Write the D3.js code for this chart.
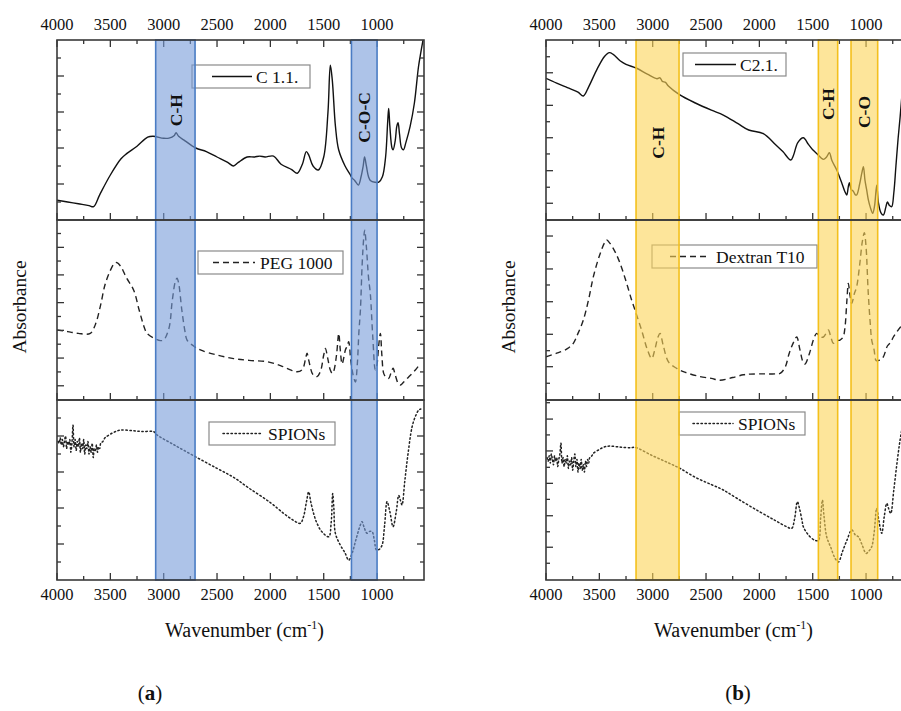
<!DOCTYPE html>
<html><head><meta charset="utf-8">
<script src="https://cdn.jsdelivr.net/npm/d3@7"></script>
<style>
body{margin:0;background:#fff;}
svg{display:block;}
text{font-family:"Liberation Serif","Times New Roman",serif;}
</style>
</head><body>
<svg id="chart" width="901" height="711" font-family="Liberation Serif, Times New Roman, serif"></svg>
<script>
// ---------- DATA ----------
const xMajorTicks = [4000, 3500, 3000, 2500, 2000, 1500, 1000];
const xMinorTicks = [3750, 3250, 2750, 2250, 1750, 1250, 750];

// panel (a) y tick values per sub-plot (relative absorbance 0-100)
const yMajorA1 = [20, 40, 60, 80];
const yMinorA1 = [10, 30, 50, 70, 90];
const yMajorA2 = [7.9, 23.3, 38.7, 54.1, 69.5, 84.8];
const yMinorA2 = [15.6, 31.0, 46.4, 61.8, 77.2, 92.5];
const yMajorA3 = [20, 40, 60, 80];
const yMinorA3 = [10, 30, 50, 70, 90];
// panel (b)
const yMajorB1 = [9.3, 27.4, 45.7, 63.7, 81.8];
const yMinorB1 = [18.2, 36.7, 54.6, 72.6, 90.7];
const yMajorB2 = [18.5, 36.5, 54.6, 72.8, 91.1];
const yMinorB2 = [9.3, 27.4, 45.7, 63.9, 82.1];
const yMajorB3 = [18.2, 35.7, 53.7, 71.7, 89.4];
const yMinorB3 = [9.3, 26.8, 44.8, 62.6, 80.6, 98.5];

const seriesNamesA = ["C 1.1.", "PEG 1000", "SPIONs"];
const seriesNamesB = ["C2.1.", "Dextran T10", "SPIONs"];

// [wavenumber, relative absorbance]
const c11 = [[4000,11],[3900,10],[3800,9],[3700,8],[3657,7.4],[3600,14],[3500,25],[3400,34],[3344,37],[3250,41],[3150,46],[3100,46.5],[3000,45.4],[2950,45.5],[2900,47],[2884,48.5],[2860,46.5],[2800,44],[2700,40],[2600,38],[2500,35],[2400,32],[2346,30],[2300,32],[2218,35],[2150,35],[2100,35.5],[2050,35],[1970,35.5],[1900,31],[1800,28],[1748,26],[1700,31],[1663,38],[1640,36],[1600,30],[1550,27.8],[1500,35],[1460,60],[1438,86],[1420,78],[1390,52],[1360,39],[1300,30],[1250,25],[1234,23.3],[1210,22],[1175,19.4],[1150,24],[1130,30],[1117,35],[1100,30],[1080,24],[1063,22],[1020,21],[984,21],[950,24],[920,35],[900,55],[891,62],[880,52],[860,40],[850,39],[830,44],[815,52],[803,54],[790,48],[770,40],[753,39],[730,43],[690,52],[650,65],[612,85],[590,93],[569,100],[560,103]];

const peg1000 = [[4000,38.9],[3900,38],[3800,37],[3688,37],[3640,42],[3594,52],[3550,64],[3500,72],[3460,76],[3438,76.3],[3400,74],[3350,68],[3281,61],[3230,50],[3180,40],[3156,37],[3080,34],[3030,33],[3000,33.3],[2950,40],[2920,55],[2890,66],[2875,67.6],[2860,65],[2830,50],[2800,38],[2781,33.3],[2720,30],[2656,27.8],[2500,25],[2344,23],[2200,22],[2031,21.3],[1900,19],[1800,16.5],[1750,15.7],[1700,17],[1670,23],[1656,26],[1640,22],[1600,14],[1563,13],[1530,16],[1500,25],[1484,28.7],[1465,24],[1440,17],[1420,14.8],[1406,16],[1380,25],[1359,37],[1345,28],[1328,20],[1310,24],[1297,27.8],[1280,30],[1266,32.4],[1255,28],[1250,24],[1225,14],[1203,10],[1185,20],[1170,38],[1156,50],[1140,75],[1125,90],[1116,94.4],[1100,85],[1080,68],[1063,59],[1040,35],[1016,16.7],[1000,20],[985,30],[969,37],[955,25],[938,14.8],[920,13],[891,12],[870,15],[850,17.6],[830,14],[800,9],[781,8.3],[750,10],[700,13],[641,16.7],[610,19]];

const spionsA = [[3990,77],[3980,76],[3970,79],[3960,75],[3950,78],[3940,74],[3930,77],[3920,80],[3910,73],[3900,77],[3890,75],[3880,78],[3870,71],[3860,76],[3850,86],[3840,74],[3830,78],[3820,72],[3810,77],[3800,74],[3790,79],[3780,71],[3770,76],[3760,73],[3750,78],[3740,70],[3730,75],[3720,73],[3710,77],[3700,70],[3690,74],[3680,71],[3670,76],[3660,68],[3650,73],[3640,72],[3630,75],[3620,71],[3610,74],[3600,73],[3590,76],[3570,77],[3550,79],[3500,81],[3450,82.5],[3406,83.3],[3300,83],[3200,82.5],[3094,82.4],[3063,80.6],[2900,75],[2703,68.5],[2500,62],[2344,57],[2200,51],[2000,43],[1875,37],[1780,33],[1719,31.5],[1690,35],[1660,44],[1641,49],[1620,43],[1590,36],[1563,31.5],[1520,27],[1453,24],[1430,32],[1416,48],[1405,40],[1391,26],[1350,20],[1300,15],[1266,11],[1234,14.8],[1200,22],[1160,30],[1141,32.4],[1120,29],[1094,26],[1070,27],[1047,26.9],[1025,22],[1006,16.7],[980,17],[953,19.4],[930,30],[906,43.5],[880,38],[850,29.6],[820,38],[797,47],[780,44],[766,41.7],[740,55],[710,70],[672,85],[640,91],[610,94.4],[590,95]];

const c21 = [[4000,78.7],[3900,76],[3800,73.5],[3700,71],[3650,68.9],[3600,74],[3520,84],[3450,91],[3406,93],[3370,92],[3306,88.5],[3250,86.5],[3150,84.3],[3050,81],[2960,78.5],[2931,79],[2910,77],[2880,76.5],[2853,74.4],[2753,69.8],[2600,65],[2450,61],[2338,58.3],[2200,53.5],[2100,50],[1963,48],[1850,42],[1780,38],[1706,33.3],[1680,36],[1640,43],[1588,45.7],[1540,42],[1500,39],[1463,37],[1400,33.7],[1370,35],[1344,37.4],[1320,33],[1275,27.8],[1230,21],[1200,16],[1181,13.9],[1165,19],[1156,20.7],[1140,17],[1120,16],[1100,14],[1088,13.9],[1060,20],[1040,26],[1025,29.6],[1010,22],[995,17],[978,11],[960,7],[938,3.7],[920,8],[900,19.4],[885,10],[860,4],[838,2.8],[815,7],[800,10],[780,8],[760,7.4],[740,15],[720,30],[700,45],[681,57],[660,72],[630,90],[600,100]];

const dextranT10 = [[4000,24],[3900,26],[3800,28.5],[3744,31.5],[3700,37],[3650,44.4],[3600,56],[3556,68.5],[3500,80],[3450,87.5],[3431,88.9],[3400,87],[3350,82],[3306,76],[3250,66],[3200,56],[3166,50],[3100,38],[3050,28],[3009,23],[2980,28],[2950,35],[2931,37],[2900,30],[2850,21],[2775,17.6],[2700,15.5],[2556,13],[2450,12],[2369,11],[2250,12.5],[2150,14],[2088,14.4],[1950,14.5],[1850,14.5],[1806,14.8],[1760,18],[1720,26],[1680,32],[1650,35],[1620,28],[1590,21],[1572,20],[1530,26],[1490,34],[1463,37],[1430,35],[1400,35],[1375,37],[1353,38.9],[1330,35],[1306,31.5],[1270,33],[1244,33.3],[1215,35],[1197,40.7],[1180,55],[1166,64.8],[1150,58],[1134,53.7],[1110,59],[1088,63],[1060,75],[1035,88],[1016,93],[1000,85],[980,60],[960,42],[947,33.3],[925,28],[906,22],[880,22],[860,23],[838,24],[800,30],[770,32],[744,35],[710,38],[675,40.7],[640,43],[600,45]];

const spionsB = [[3990,68],[3980,66],[3970,69],[3960,65],[3950,70],[3940,67],[3930,64],[3920,69],[3910,66],[3900,68],[3890,63],[3880,67],[3870,70],[3860,76],[3850,65],[3840,68],[3830,63],[3820,67],[3810,65],[3800,69],[3790,62],[3780,66],[3770,64],[3760,68],[3750,61],[3740,66],[3730,70],[3720,63],[3710,67],[3700,60],[3690,65],[3680,62],[3670,67],[3660,61],[3650,64],[3640,60],[3630,66],[3620,63],[3610,67],[3600,65],[3590,68],[3570,69],[3556,70.4],[3500,72.5],[3450,74],[3400,74.4],[3300,73.8],[3200,73.5],[3166,73.7],[3000,69],[2850,65],[2744,62],[2600,57],[2450,53],[2338,50],[2200,45],[2000,38],[1850,33],[1744,29.6],[1697,28.7],[1670,34],[1644,43.5],[1625,40],[1600,33],[1588,29.6],[1540,25],[1478,22],[1447,22],[1425,35],[1409,44.4],[1395,36],[1369,24],[1330,18],[1290,12],[1259,10],[1220,16],[1180,22],[1134,27.8],[1100,25],[1072,24],[1040,20],[1000,14.8],[975,16],[947,18.5],[925,26],[900,39.8],[880,33],[853,26],[830,35],[806,42.6],[790,40],[769,37],[740,50],[710,65],[681,77.8],[650,88],[620,95]];

// highlighted bands [from, to] in cm-1
const bandsA = [[3075, 2706], [1240, 1000]];
const bandsB = [[3156, 2753], [1447, 1266], [1141, 891]];
const bandLabelsA = [["C-H", 2890, 61], ["C-O-C", 1120, 57]];
const bandLabelsB = [["C-H", 2955, 43], ["C-H", 1356, 64.4], ["C-O", 1016, 60]];

// ---------- LAYOUT ----------
const FONT = "Liberation Serif, Times New Roman, serif";
const svg = d3.select("#chart");
const subH = 180, top0 = 40;
const styles = [
  {dash: null, color: "#111"},
  {dash: "6,4", color: "#222"},
  {dash: "1.4,2.6", color: "#222"}
];

const panels = [
  {left: 57, series: [c11, peg1000, spionsA], names: seriesNamesA,
   yMajor: [yMajorA1, yMajorA2, yMajorA3], yMinor: [yMinorA1, yMinorA2, yMinorA3],
   bands: bandsA, bandLabels: bandLabelsA,
   bandFill: "rgb(118,155,217)", bandStroke: "#4a7cc4",
   legends: [{x:135,y:25,w:118,l0:20,l1:60,t:64},{x:141,y:31,w:145,l0:15,l1:57,t:62},{x:152,y:22,w:126,l0:14,l1:53,t:59}],
   tag: "a", tagX: 150},
  {left: 546, series: [c21, dextranT10, spionsB], names: seriesNamesB,
   yMajor: [yMajorB1, yMajorB2, yMajorB3], yMinor: [yMinorB1, yMinorB2, yMinorB3],
   bands: bandsB, bandLabels: bandLabelsB,
   bandFill: "rgb(252,212,87)", bandStroke: "#f4c01c",
   legends: [{x:137,y:13,w:103,l0:12,l1:53,t:57},{x:106,y:25,w:165,l0:18,l1:56,t:64},{x:133,y:12,w:126,l0:14,l1:54,t:59}],
   tag: "b", tagX: 738}
];

const plotW = 367;

panels.forEach((p, pi) => {
  const g = svg.append("g").attr("font-family", FONT);
  const x = d3.scaleLinear().domain([4000, 560]).range([p.left, p.left + plotW]);

  p.series.forEach((data, si) => {
    const y0 = top0 + si * subH;
    const y = d3.scaleLinear().domain([0, 100]).range([y0 + subH, y0]);
    const subClip = "sclip" + pi + "_" + si;
    svg.append("clipPath").attr("id", subClip).append("rect")
      .attr("x", p.left).attr("y", y0).attr("width", plotW).attr("height", subH);
    const line = d3.line().x(d => x(d[0])).y(d => y(d[1])).curve(d3.curveCatmullRom.alpha(0.5));
    g.append("path").datum(data)
      .attr("clip-path", `url(#${subClip})`)
      .attr("d", line).attr("fill", "none")
      .attr("stroke", styles[si].color).attr("stroke-width", si === 2 ? 1.5 : 1.4)
      .attr("stroke-dasharray", styles[si].dash)
      .attr("stroke-linecap", si === 2 ? "round" : "butt");

    // legend
    const L = p.legends[si];
    const lg = g.append("g").attr("transform", `translate(${p.left + L.x},${y0 + L.y})`);
    lg.append("rect").attr("width", L.w).attr("height", 23).attr("fill", "#fff")
      .attr("stroke", "#8a8a8a").attr("stroke-width", 1.2);
    lg.append("line").attr("x1", L.l0).attr("x2", L.l1).attr("y1", 11.5).attr("y2", 11.5)
      .attr("stroke", styles[si].color).attr("stroke-width", si === 2 ? 1.5 : 1.4)
      .attr("stroke-dasharray", styles[si].dash).attr("stroke-linecap", si === 2 ? "round" : "butt");
    lg.append("text").attr("x", L.t).attr("y", 17.5).attr("font-size", 17.5).attr("fill", "#111")
      .attr("font-family", FONT).text(p.names[si]);

    // y ticks (left & right, inward)
    const tickG = g.append("g");
    [[p.yMajor[si], 7], [p.yMinor[si], 4]].forEach(([vals, len]) => {
      vals.forEach(v => {
        tickG.append("line").attr("x1", p.left).attr("x2", p.left + len)
          .attr("y1", y(v)).attr("y2", y(v)).attr("stroke", "#333").attr("stroke-width", 1.3);
        tickG.append("line").attr("x1", p.left + plotW).attr("x2", p.left + plotW - len)
          .attr("y1", y(v)).attr("y2", y(v)).attr("stroke", "#333").attr("stroke-width", 1.3);
      });
    });
    // x ticks on bottom of each sub-plot, pointing up
    [[xMajorTicks, 7], [xMinorTicks, 4]].forEach(([vals, len]) => {
      vals.forEach(v => {
        tickG.append("line").attr("x1", x(v)).attr("x2", x(v))
          .attr("y1", y0 + subH).attr("y2", y0 + subH - len).attr("stroke", "#333").attr("stroke-width", 1.3);
      });
    });
  });

  // top ticks pointing down
  [[xMajorTicks, 7], [xMinorTicks, 4]].forEach(([vals, len]) => {
    vals.forEach(v => {
      g.append("line").attr("x1", x(v)).attr("x2", x(v))
        .attr("y1", top0).attr("y2", top0 + len).attr("stroke", "#333").attr("stroke-width", 1.3);
    });
  });

  // bands (drawn over curves, semi-transparent)
  p.bands.forEach(b => {
    g.append("rect").attr("x", x(b[0])).attr("y", top0)
      .attr("width", x(b[1]) - x(b[0])).attr("height", subH * 3)
      .attr("fill", p.bandFill).attr("fill-opacity", 0.6)
      .attr("stroke", p.bandStroke).attr("stroke-width", 1.6);
  });

  // frames
  for (let si = 0; si < 3; si++) {
    g.append("rect").attr("x", p.left).attr("y", top0 + si * subH)
      .attr("width", plotW).attr("height", subH)
      .attr("fill", "none").attr("stroke", "#3a3a3a").attr("stroke-width", 1.6);
  }

  // band labels (rotated)
  const yTop = d3.scaleLinear().domain([0, 100]).range([top0 + subH, top0]);
  p.bandLabels.forEach(([txt, wn, v]) => {
    g.append("text")
      .attr("transform", `translate(${x(wn)},${yTop(v)}) rotate(-90)`)
      .attr("text-anchor", "middle").attr("dy", "0.35em")
      .attr("font-size", 17.5).attr("font-weight", "bold").attr("fill", "#111")
      .text(txt);
  });

  // tick labels top & bottom
  xMajorTicks.forEach(v => {
    g.append("text").attr("x", x(v)).attr("y", 30).attr("text-anchor", "middle")
      .attr("font-size", 16.5).attr("fill", "#111").text(v);
    g.append("text").attr("x", x(v)).attr("y", 600).attr("text-anchor", "middle")
      .attr("font-size", 16.5).attr("fill", "#111").text(v);
  });

  // axis titles
  const cx = p.left + plotW / 2;
  const t = g.append("text").attr("x", cx + 4).attr("y", 637).attr("text-anchor", "middle")
    .attr("font-size", 20).attr("fill", "#111");
  t.append("tspan").text("Wavenumber (cm");
  t.append("tspan").attr("dy", -8).attr("font-size", 12).text("-1");
  t.append("tspan").attr("dy", 8).text(")");

  g.append("text")
    .attr("transform", `translate(${p.left - 31},307) rotate(-90)`)
    .attr("text-anchor", "middle").attr("font-size", 19.5).attr("fill", "#111")
    .text("Absorbance");

  const tag = g.append("text").attr("x", p.tagX).attr("y", 700).attr("text-anchor", "middle")
    .attr("font-size", 21).attr("fill", "#111");
  tag.append("tspan").text("(");
  tag.append("tspan").attr("font-weight", "bold").text(p.tag);
  tag.append("tspan").text(")");
});
</script>
</body></html>
